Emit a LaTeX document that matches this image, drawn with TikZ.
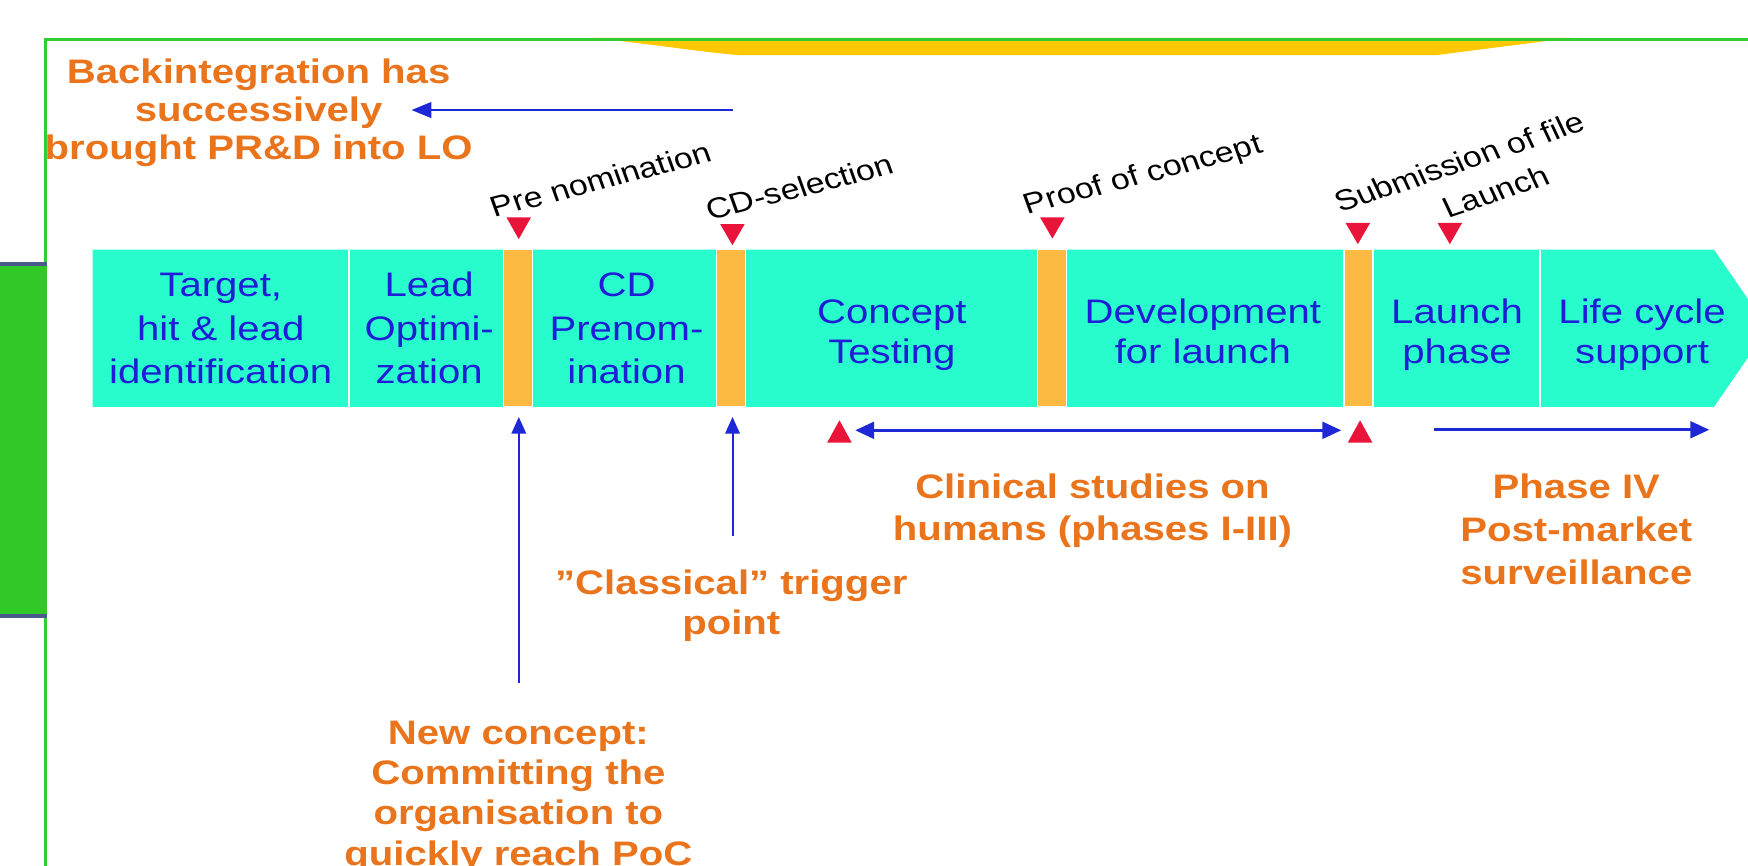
\documentclass[tikz,border=0pt]{standalone}
\usepackage{fontspec}
\setmainfont{Liberation Sans}
\usetikzlibrary{arrows.meta}
\definecolor{frameg}{RGB}{50,205,50}
\definecolor{boxg}{RGB}{50,200,40}
\definecolor{slateb}{RGB}{72,92,140}
\definecolor{goldy}{RGB}{255,200,0}
\definecolor{barteal}{RGB}{40,252,205}
\definecolor{amberb}{RGB}{253,186,66}
\definecolor{mkred}{RGB}{232,20,58}
\definecolor{arrblue}{RGB}{30,40,215}
\definecolor{txtblue}{RGB}{30,30,215}
\definecolor{orangetxt}{RGB}{234,116,28}
\newcommand\mlines[2]{\vtop{\baselineskip=#1\relax\lineskiplimit=-1000pt\halign{\hfil##\hfil\cr#2\crcr}}}
\begin{document}
\begin{tikzpicture}[x=0.847458pt, y=-1pt, xscale=1.18,
  every node/.style={transform shape, inner sep=0pt, outer sep=0pt},
  orng/.style={font=\bfseries\fontsize{30.5}{34}\selectfont, text=orangetxt, anchor=base},
  boxt/.style={font=\fontsize{30.5}{34}\selectfont, text=txtblue, anchor=base},
  mlabel/.style={font=\fontsize{25.8}{29}\selectfont, text=black, anchor=base west},
  mk/.style={fill=mkred, draw=none},
  ambar/.style={fill=amberb, draw=white, line width=1.2pt},
  thinarr/.style={draw=arrblue, line width=1.8pt, -{Triangle[length=15pt,width=13pt]}},
  toparr/.style={draw=arrblue, line width=2.4pt, -{Triangle[length=18pt,width=14pt]}},
  thickarr/.style={draw=arrblue, line width=2.6pt, -{Triangle[length=17pt,width=15pt]}},
  dblarr/.style={draw=arrblue, line width=2.6pt, {Triangle[length=17pt,width=15pt]}-{Triangle[length=17pt,width=15pt]}}
]
\useasboundingbox (0,0) rectangle (1568,776);
\clip (0,0) rectangle (1568,776);
\fill[white] (0,0) rectangle (1568,776);

% yellow banner bottom
\fill[goldy] (530,34) .. controls (590,40) and (630,47) .. (664,49.5) -- (1288,49.5) -- (1409,34) -- cycle;

% frame
\draw[frameg, line width=2.2pt] (41,780) -- (41,35.3) -- (1575,35.3);

% green side box
\fill[boxg] (0,237) rectangle (42.5,552);
\fill[slateb] (0,235) rectangle (42.5,238.6);
\fill[slateb] (0,550.5) rectangle (42.5,554.5);

% process bar
\fill[barteal] (83,224) -- (1537.5,224) -- (1586,294.5) -- (1537.5,365) -- (83,365) -- cycle;
\draw[white, line width=2pt] (313,224) -- (313,365);
\draw[white, line width=2pt] (1381.5,224) -- (1381.5,365);
\path[ambar] (451.5,224) rectangle (477.5,365);
\path[ambar] (643,224) rectangle (669,365);
\path[ambar] (930.5,224) rectangle (956.5,365);
\path[ambar] (1205.5,224) rectangle (1231.5,365);

% box texts
\node[boxt] (t1) at (198,266) {\mlines{39pt}{Target,\cr hit \& lead\cr identification}};
\node[boxt] (t2) at (385,266) {\mlines{39pt}{Lead\cr Optimi-\cr zation}};
\node[boxt] (t3) at (562,266) {\mlines{39pt}{CD\cr Prenom-\cr ination}};
\node[boxt] (t4) at (800,290) {\mlines{36pt}{Concept\cr Testing}};
\node[boxt] (t5) at (1079,290) {\mlines{36pt}{Development\cr for launch}};
\node[boxt] (t6) at (1307,290) {\mlines{36pt}{Launch\cr phase}};
\node[boxt] (t7) at (1473,290) {\mlines{36pt}{Life cycle\cr support}};

% milestone markers (down)
\fill[mk] (454.3,195) -- (476.3,195) -- (465.3,214.5) -- cycle;
\fill[mk] (646,201) -- (668,201) -- (657,220) -- cycle;
\fill[mk] (933,195) -- (955,195) -- (944,214) -- cycle;
\fill[mk] (1207,200) -- (1229,200) -- (1218,219) -- cycle;
\fill[mk] (1289.5,200) -- (1311.5,200) -- (1300.5,219) -- cycle;
% markers (up)
\fill[mk] (742,397) -- (764,397) -- (753,377) -- cycle;
\fill[mk] (1209,397) -- (1231,397) -- (1220,377) -- cycle;

% milestone labels
\node[mlabel, rotate=16.9] (lpre) at (444,195) {Pre nomination};
\node[mlabel, rotate=16.9] (lcd) at (637,198) {CD-selection};
\node[mlabel, rotate=17.1] (lpoc) at (922,192) {Proof of concept};
\node[mlabel, rotate=21.7] (lsub) at (1202,191) {Submission of file};
\node[mlabel, rotate=21.7] (llau) at (1299,196) {Launch};

% orange texts
\node[orng] (back) at (232,74.5) {\mlines{34.5pt}{Backintegration has\cr successively\cr brought PR\&D into LO}};
\node[orng] (clin) at (980,447) {\mlines{37.5pt}{Clinical studies on\cr humans (phases I-III)}};
\node[orng] (ph4) at (1414,447) {\mlines{38.5pt}{Phase IV\cr Post-market\cr surveillance}};
\node[orng] (clas) at (656,533) {\mlines{36pt}{”Classical” trigger\cr point}};
\node[orng] (newc) at (465,668) {\mlines{36pt}{New concept:\cr Committing the\cr organisation to\cr quickly reach PoC}};

% arrows
\coordinate (topS) at (657,98.7);
\coordinate (topE) at (369,98.7);
\draw[toparr] (topS) -- (topE);
\coordinate (v1s) at (465.3,613);
\coordinate (v1e) at (465.3,374);
\draw[thinarr] (v1s) -- (v1e);
\coordinate (v2s) at (657,481);
\coordinate (v2e) at (657,374);
\draw[thinarr] (v2s) -- (v2e);
\coordinate (dS) at (767,386);
\coordinate (dE) at (1203,386);
\draw[dblarr] (dS) -- (dE);
\coordinate (rS) at (1286,385.5);
\coordinate (rE) at (1533,385.5);
\draw[thickarr] (rS) -- (rE);
\end{tikzpicture}
\end{document}
